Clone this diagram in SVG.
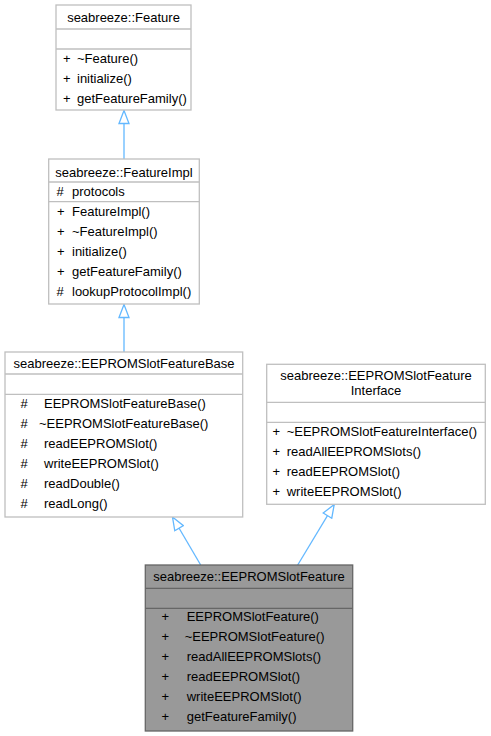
<svg xmlns="http://www.w3.org/2000/svg" width="491" height="736" viewBox="0 0 491 736">
<style>
text{font-family:"Liberation Sans",Arial,sans-serif;font-size:13px;fill:#000}
.c{text-anchor:middle}
.box{fill:#fff;stroke:#bfbfbf;stroke-width:1.3}
.sep{stroke:#bfbfbf;stroke-width:1.3}
.hbox{fill:#999;stroke:#666;stroke-width:1.3}
.hsep{stroke:#666;stroke-width:1.3}
.edge{stroke:#63b8ff;stroke-width:1.3;fill:none;marker-end:url(#tri)}
</style>
<defs>
<marker id="tri" viewBox="-1 -1 15 12" refX="13" refY="5" markerWidth="15" markerHeight="12" markerUnits="userSpaceOnUse" orient="auto">
<path d="M0,0 L13,5 L0,10 Z" fill="#fff" stroke="#63b8ff" stroke-width="1.3"/>
</marker>
</defs>
<g id="connectors">
<path class="edge" d="M124,159 L124,110.5"/>
<path class="edge" d="M124,352 L124,304.5"/>
<path class="edge" d="M200.7,565 L172.5,517"/>
<path class="edge" d="M297.7,565 L334.2,504.5"/>
</g>
<g id="feature">
<rect class="box" x="56" y="5" width="135" height="105"/>
<line class="sep" x1="56" y1="29" x2="191" y2="29"/>
<line class="sep" x1="56" y1="49" x2="191" y2="49"/>
<text class="c" x="123.5" y="21.5">seabreeze::Feature</text>
<text x="63" y="62.5">+</text><text x="77" y="62.5">~Feature()</text>
<text x="63" y="82.5">+</text><text x="77" y="82.5">initialize()</text>
<text x="63" y="102.5">+</text><text x="77" y="102.5">getFeatureFamily()</text>
</g>
<g id="featureimpl">
<rect class="box" x="48.7" y="159" width="150.6" height="145"/>
<line class="sep" x1="48.7" y1="182" x2="199.3" y2="182"/>
<line class="sep" x1="48.7" y1="201.7" x2="199.3" y2="201.7"/>
<text class="c" x="124" y="176.5">seabreeze::FeatureImpl</text>
<text x="56.5" y="195.5">#</text><text x="72" y="195.5">protocols</text>
<text x="57" y="215.5">+</text><text x="72" y="215.5">FeatureImpl()</text>
<text x="57" y="235.5">+</text><text x="72" y="235.5">~FeatureImpl()</text>
<text x="57" y="255.5">+</text><text x="72" y="255.5">initialize()</text>
<text x="57" y="275.5">+</text><text x="72" y="275.5">getFeatureFamily()</text>
<text x="56.5" y="295.5">#</text><text x="72" y="295.5">lookupProtocolImpl()</text>
</g>
<g id="slotbase">
<rect class="box" x="5" y="352" width="237.7" height="165"/>
<line class="sep" x1="5" y1="374" x2="242.7" y2="374"/>
<line class="sep" x1="5" y1="394.3" x2="242.7" y2="394.3"/>
<text class="c" x="124" y="367.5">seabreeze::EEPROMSlotFeatureBase</text>
<text x="20.5" y="407.5">#</text><text x="44" y="407.5">EEPROMSlotFeatureBase()</text>
<text x="20.5" y="427.5">#</text><text x="39" y="427.5">~EEPROMSlotFeatureBase()</text>
<text x="20.5" y="447.5">#</text><text x="44" y="447.5">readEEPROMSlot()</text>
<text x="20.5" y="467.5">#</text><text x="44" y="467.5">writeEEPROMSlot()</text>
<text x="20.5" y="487.5">#</text><text x="44" y="487.5">readDouble()</text>
<text x="20.5" y="507.5">#</text><text x="44" y="507.5">readLong()</text>
</g>
<g id="slotinterface">
<rect class="box" x="266.7" y="364.3" width="218.6" height="140"/>
<line class="sep" x1="266.7" y1="402.3" x2="485.3" y2="402.3"/>
<line class="sep" x1="266.7" y1="422.3" x2="485.3" y2="422.3"/>
<text class="c" x="376" y="380.3">seabreeze::EEPROMSlotFeature</text>
<text class="c" x="376" y="395.3">Interface</text>
<text x="272.5" y="435.5">+</text><text x="286.7" y="435.5">~EEPROMSlotFeatureInterface()</text>
<text x="272.5" y="455.5">+</text><text x="286.7" y="455.5">readAllEEPROMSlots()</text>
<text x="272.5" y="475.5">+</text><text x="286.7" y="475.5">readEEPROMSlot()</text>
<text x="272.5" y="495.5">+</text><text x="286.7" y="495.5">writeEEPROMSlot()</text>
</g>
<g id="slotfeature">
<rect class="hbox" x="145.3" y="565" width="207.4" height="166"/>
<line class="hsep" x1="145.3" y1="588.3" x2="352.7" y2="588.3"/>
<line class="hsep" x1="145.3" y1="608.3" x2="352.7" y2="608.3"/>
<text class="c" x="249" y="580.5">seabreeze::EEPROMSlotFeature</text>
<text x="161.5" y="621">+</text><text x="186.7" y="621">EEPROMSlotFeature()</text>
<text x="161.5" y="641">+</text><text x="184.7" y="641">~EEPROMSlotFeature()</text>
<text x="161.5" y="661">+</text><text x="186.7" y="661">readAllEEPROMSlots()</text>
<text x="161.5" y="681">+</text><text x="186.7" y="681">readEEPROMSlot()</text>
<text x="161.5" y="701">+</text><text x="186.7" y="701">writeEEPROMSlot()</text>
<text x="161.5" y="721">+</text><text x="186.7" y="721">getFeatureFamily()</text>
</g>
</svg>
